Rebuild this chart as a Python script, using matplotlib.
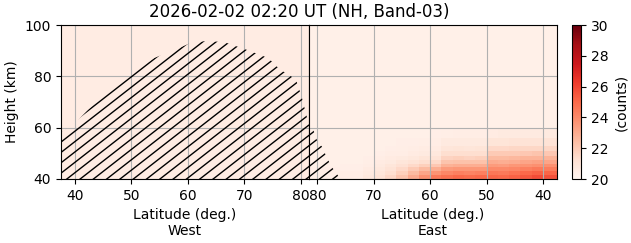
import numpy as np
import matplotlib
matplotlib.use("Agg")
import matplotlib.pyplot as plt
from matplotlib.collections import LineCollection

# ── DATOS ─────────────────────────────────────────────────────────────────────
TITULO = "2026-02-02 02:20 UT (NH, Band-03)"

# lado oeste: fondo casi uniforme
lat_oeste = [37.5, 81.5]
alt_oeste = [40, 100]
cnt_oeste = [[20.55]]

# lado este: bordes de celdas (latitud decreciente) y altura
lat_este = [81.5, 76, 72, 70, 68, 66, 64, 62, 60, 58, 56, 54, 52, 50, 48, 46, 44, 42, 40, 37.5]
alt_este = [40, 41.5, 43, 44.5, 46, 47.5, 49, 51, 53, 56, 60, 100]
cnt_este = [
    [20.4, 20.5, 20.8, 21.1, 21.6, 22.2, 23.0, 23.8, 24.5, 24.8, 25.0, 24.9, 25.0, 25.1, 25.0, 25.2, 25.5, 25.8, 25.7],
    [20.4, 20.5, 20.7, 20.9, 21.3, 21.8, 22.5, 23.2, 23.7, 24.1, 24.3, 24.2, 24.3, 24.6, 24.5, 24.7, 25.0, 25.2, 25.1],
    [20.4, 20.4, 20.6, 20.8, 21.1, 21.5, 22.0, 22.5, 22.9, 23.5, 23.6, 23.6, 23.6, 24.0, 24.0, 24.1, 24.3, 24.5, 24.4],
    [20.35, 20.4, 20.5, 20.7, 20.9, 21.2, 21.5, 21.8, 22.1, 22.8, 22.9, 22.9, 22.9, 23.5, 23.4, 23.6, 23.7, 23.8, 23.8],
    [20.35, 20.35, 20.45, 20.6, 20.7, 20.9, 21.1, 21.3, 21.5, 22.2, 22.3, 22.3, 22.3, 23.0, 22.9, 23.0, 23.2, 23.3, 23.2],
    [20.35, 20.35, 20.4, 20.5, 20.6, 20.7, 20.8, 21.0, 21.1, 21.7, 21.8, 21.7, 21.8, 22.5, 22.5, 22.6, 22.7, 22.7, 22.7],
    [20.35, 20.35, 20.35, 20.4, 20.5, 20.5, 20.6, 20.7, 20.8, 21.3, 21.3, 21.3, 21.3, 22.0, 22.0, 22.0, 22.1, 22.2, 22.1],
    [20.35, 20.35, 20.35, 20.35, 20.4, 20.45, 20.5, 20.55, 20.6, 20.9, 21.0, 20.9, 21.0, 21.5, 21.5, 21.6, 21.6, 21.6, 21.6],
    [20.35, 20.35, 20.35, 20.35, 20.35, 20.4, 20.4, 20.45, 20.5, 20.7, 20.7, 20.7, 20.7, 21.0, 21.0, 21.1, 21.1, 21.1, 21.1],
    [20.35, 20.35, 20.35, 20.35, 20.35, 20.35, 20.35, 20.35, 20.4, 20.45, 20.5, 20.5, 20.5, 20.6, 20.7, 20.7, 20.7, 20.7, 20.7],
    [20.35] * 19,
]

# zona rayada (borde superior)
rayado_lat_oeste = [37.5, 40, 43, 46, 50, 54, 57.7, 60.5, 63.4, 66.5, 70.5, 74.3, 76.4, 78.1, 79.3, 80.2, 80.8, 81.5]
rayado_alt_oeste = [57.9, 61.8, 68.5, 74.7, 81.3, 87.1, 90.3, 93.0, 93.8, 93.3, 90.3, 87.1, 82.5, 80.5, 78.0, 72.0, 66.9, 61.0]
rayado_lat_este = [81.5, 80.7, 80.1, 79.2, 78.4, 77.5, 76.6, 76.0]
rayado_alt_este = [61.0, 59.0, 55.2, 52.6, 48.7, 44.8, 42.2, 40.0]

ticks_lat = [40, 50, 60, 70, 80]

# ── FIGURA ────────────────────────────────────────────────────────────────────
W, H = 631, 243
fig = plt.figure(figsize=(W / 100, H / 100), dpi=100)
ax_o = fig.add_axes([61 / W, 1 - 179 / H, 248 / W, 154 / H])
ax_e = fig.add_axes([309 / W, 1 - 179 / H, 248 / W, 154 / H], sharey=ax_o)
cax = fig.add_axes([572 / W, 1 - 179 / H, 9 / W, 154 / H])

mesh = ax_o.pcolormesh(lat_oeste, alt_oeste, cnt_oeste, cmap="Reds", vmin=20, vmax=30)
ax_e.pcolormesh(lat_este, alt_este, cnt_este, cmap="Reds", vmin=20, vmax=30)

ax_o.set_xlim(37.5, 81.5)
ax_e.set_xlim(81.5, 37.5)
ax_o.set_ylim(40, 100)
ax_o.set_yticks([40, 60, 80, 100])
for ax in (ax_o, ax_e):
    ax.set_xticks(ticks_lat)
    ax.grid(True)
ax_e.tick_params(left=False, labelleft=False)

ax_o.set_ylabel("Height (km)")
ax_o.set_xlabel("Latitude (deg.)\nWest")
ax_e.set_xlabel("Latitude (deg.)\nEast")

# ── RAYADO (líneas en píxeles, recortadas por el polígono) ───────────────────
pend = 0.78
paso = 13.3
x0s = np.arange(51.3 - 40 * paso, W + paso, paso)
segs = [[(x0 / W, 0), ((x0 + H / pend) / W, 1)] for x0 in x0s]

for ax, lats, alts in ((ax_o, rayado_lat_oeste, rayado_alt_oeste),
                       (ax_e, rayado_lat_este, rayado_alt_este)):
    xs = list(lats) + [lats[-1], lats[0]]
    ys = list(alts) + [40, 40]
    poly = ax.fill(xs, ys, facecolor="none", edgecolor="none")[0]
    lc = LineCollection(segs, colors="black", linewidths=1.0,
                        transform=fig.transFigure)
    ax.add_collection(lc, autolim=False)
    lc.set_clip_path(poly)

cb = fig.colorbar(mesh, cax=cax)
cb.set_ticks([20, 22, 24, 26, 28, 30])
cb.set_label("(counts)")

fig.text(299 / W, 1 - 12 / H, TITULO, ha="center", va="center", fontsize=12)

fig.savefig("out.png", dpi=100)
